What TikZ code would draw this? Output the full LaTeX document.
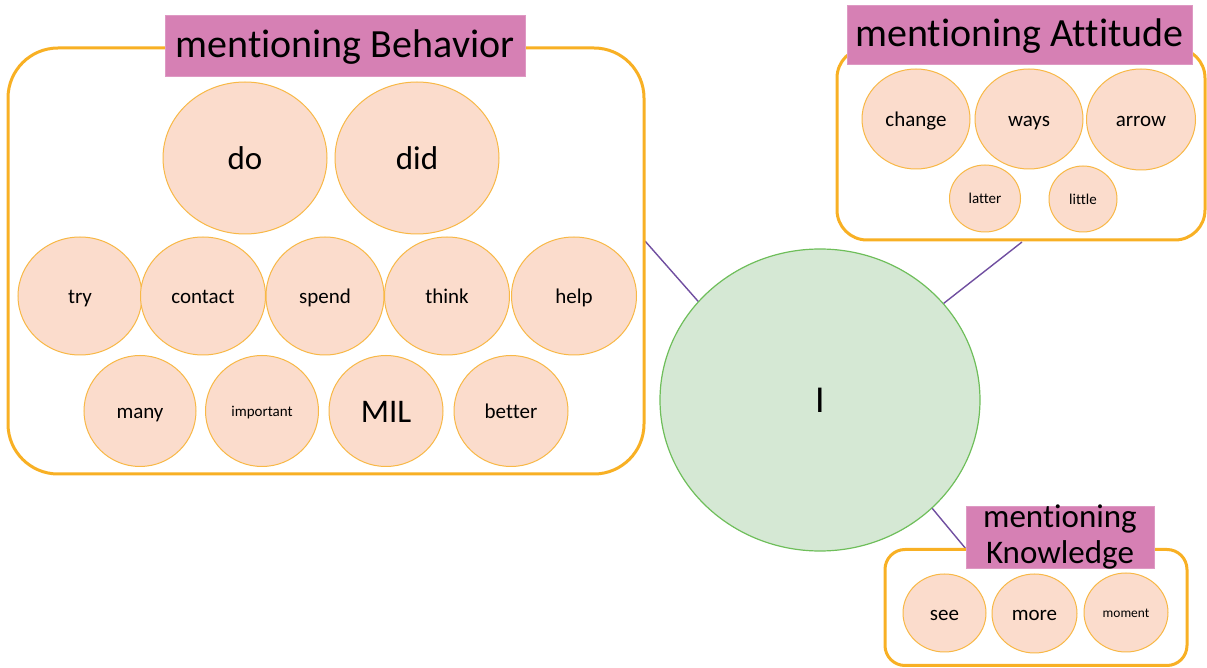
\documentclass[tikz,border=0pt]{standalone}
\usepackage{fontspec}
\setmainfont{Carlito}[Ligatures=NoCommon]
\usetikzlibrary{shapes.geometric}
\definecolor{boxor}{RGB}{248,176,36}
\definecolor{bubfill}{RGB}{251,220,204}
\definecolor{bubline}{RGB}{248,184,70}
\definecolor{pinkl}{RGB}{214,128,180}
\definecolor{gfill}{RGB}{213,232,212}
\definecolor{gline}{RGB}{110,190,90}
\definecolor{purp}{RGB}{112,78,160}
\tikzset{
  sz/.style 2 args={minimum width=#1*0.5pt, minimum height=#2*0.5pt},
  bub/.style={ellipse, draw=bubline, fill=bubfill, line width=0.5pt, inner sep=0pt},
  grp/.style={draw=boxor, line width=1.5pt, fill=white, inner sep=0pt},
  lab/.style={fill=pinkl, draw=pinkl!80!white, line width=0.4pt, inner sep=0pt},
  conn/.style={draw=purp, line width=0.7pt},
  fbig/.style={font=\fontsize{16.5}{19}\selectfont, text height=13.2pt, text depth=1.65pt},
  fmed/.style={font=\fontsize{10.5}{12}\selectfont, text height=8.4pt, text depth=1.05pt},
  fsml/.style={font=\fontsize{7.5}{9}\selectfont, text height=6pt, text depth=0.75pt},
  ftny/.style={font=\fontsize{6.7}{8}\selectfont, text height=5.4pt, text depth=0.7pt},
  ftit/.style={font=\fontsize{20}{24}\selectfont, text height=14pt, text depth=2pt},
}
\begin{document}
\begin{tikzpicture}[x=0.5pt, y=-0.5pt]
\useasboundingbox (0,0) rectangle (1207,668);

% connector end points on the group borders
\coordinate (c1) at (645,241);
\coordinate (c2) at (1022,242);
\coordinate (c3) at (966,549);

% central node
\node[ellipse, draw=gline, fill=gfill, line width=0.6pt, inner sep=0pt, sz={320}{302},
      font=\fontsize{19}{22}\selectfont, text height=14.4pt, text depth=1.9pt] (I) at (820,400) {I};
\draw[conn] (c1) -- (I.141);
\draw[conn] (I.38) -- (c2);
\draw[conn] (I.-44) -- (c3);

% Behavior group
\node[grp, rounded corners=25pt, sz={636}{426}] (beh) at (326,261) {};
\node[lab, sz={360}{61}, ftit] (behl) at (345,45.5) {mentioning Behavior};
\node[bub, sz={164}{152}, fbig] (do) at (245,158) {do};
\node[bub, sz={164}{152}, fbig] (did) at (417,158) {did};
\node[bub, sz={124}{118}, fmed] (try) at (80,296) {try};
\node[bub, sz={125}{118}, fmed] (contact) at (203,296) {contact};
\node[bub, sz={118}{118}, fmed] (spend) at (325,296) {spend};
\node[bub, sz={125}{118}, fmed] (think) at (447,296) {think};
\node[bub, sz={125}{118}, fmed] (help) at (574,296) {help};
\node[bub, sz={112}{111}, fmed] (many) at (140,411) {many};
\node[bub, sz={113}{111}, fsml] (important) at (262,411) {important};
\node[bub, sz={114}{111}, fbig] (MIL) at (386,411) {MIL};
\node[bub, sz={114}{111}, fmed] (better) at (511,411) {better};

% Attitude group
\node[grp, rounded corners=15pt, sz={368}{192}] (att) at (1021,144) {};
\node[lab, sz={345}{59}, ftit] (attl) at (1019.5,34.5) {mentioning Attitude};
\node[bub, sz={108}{100}, fmed] (change) at (916,119) {change};
\node[bub, sz={108}{100}, fmed] (ways) at (1029,119) {ways};
\node[bub, sz={109}{101}, fmed] (arrow) at (1141,119.5) {arrow};
\node[bub, sz={71}{67}, fsml] (latter) at (985,198.5) {latter};
\node[bub, sz={68}{66}, fsml] (little) at (1083,199) {little};

% Knowledge group
\node[grp, rounded corners=10pt, sz={302}{116}] (kno) at (1036,607.5) {};
\node[lab, sz={188}{62}] (knol) at (1060,537) {};
\node[anchor=base, font=\fontsize{16.5}{19}\selectfont, inner sep=0pt] (knot1) at (1060,528) {mentioning};
\node[anchor=base, font=\fontsize{16.5}{19}\selectfont, inner sep=0pt] (knot2) at (1060,564) {Knowledge};
\node[bub, sz={83}{78}, fmed] (see) at (944.5,613) {see};
\node[bub, sz={85}{79}, fmed] (more) at (1034.5,613.5) {more};
\node[bub, sz={84}{79}, ftny] (moment) at (1126,612.5) {moment};
\end{tikzpicture}
\end{document}
